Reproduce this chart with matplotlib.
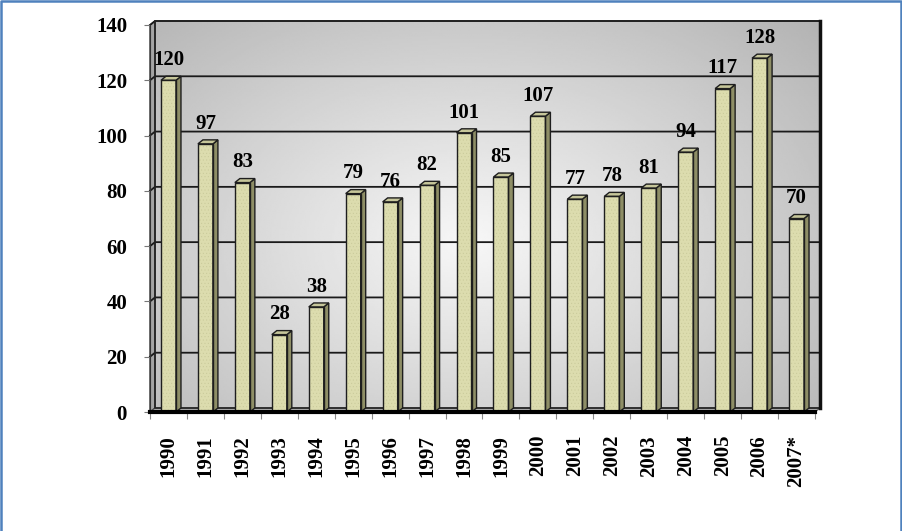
import numpy as np
import matplotlib.pyplot as plt
from matplotlib.patches import Polygon, Rectangle
from matplotlib.lines import Line2D

plt.rcParams['font.family'] = ['Liberation Serif', 'DejaVu Serif']
plt.rcParams['font.weight'] = 'bold'
plt.rcParams['hatch.linewidth'] = 0.3

years = ['1990', '1991', '1992', '1993', '1994', '1995', '1996', '1997', '1998',
         '1999', '2000', '2001', '2002', '2003', '2004', '2005', '2006', '2007*']
values = [120, 97, 83, 28, 38, 79, 76, 82, 101, 85, 107, 77, 78, 81, 94, 117, 128, 70]
yticks = [0, 20, 40, 60, 80, 100, 120, 140]

W, H = 903, 531
fig = plt.figure(figsize=(W / 100, H / 100), dpi=100)
ax = fig.add_axes([150 / W, (H - 412) / H, 665 / W, 387 / H])
n = len(values)
ymax = 140

# pixel -> data units, for the fake 3d depth
px_x = n / 665
px_y = ymax / 387
dx, dy = 5 * px_x, 4 * px_y

# back wall with radial grey shading
yy, xx = np.mgrid[0:1:200j, 0:1:400j]
r = np.sqrt(((xx - 0.47) * 667 / 340) ** 2 + ((yy - 0.43) * 387 / 230) ** 2)
shade = 0.97 - 0.19 * r
ax.imshow(shade, origin='lower', cmap='gray', vmin=0, vmax=1,
          extent=(dx, n + dx, dy, ymax + dy), aspect='auto', zorder=0,
          clip_on=False, interpolation='bilinear')

# side wall and floor
ax.add_patch(Polygon([(0, 0), (dx, dy), (dx, ymax + dy), (0, ymax)],
                     fc='#a4a4a4', ec='#333333', lw=1, zorder=1, clip_on=False))
ax.add_patch(Polygon([(0, 0), (n, 0), (n + dx, dy), (dx, dy)],
                     fc='#b4b4b4', ec='#555555', lw=0.8, zorder=1, clip_on=False))

for g in yticks[1:]:
    ax.plot([0, dx, n + dx], [g, g + dy, g + dy], color='#1a1a1a', lw=1.3,
            clip_on=False, zorder=1)
ax.add_patch(Rectangle((dx, dy), n, ymax, fill=False, ec='#222222', lw=1.2,
                       zorder=1, clip_on=False))
ax.plot([n + dx, n + dx], [dy, ymax + dy], color='#111111', lw=2.5,
        clip_on=False, zorder=1)

# columns
x = np.arange(n) + 0.5
bw = 15 * px_x
ax.bar(x, values, width=bw, color='#dcdcae', edgecolor='#c8c898', hatch='.....',
       linewidth=0, zorder=3)
ax.bar(x, values, width=bw, fill=False, edgecolor='#1e1e1e', linewidth=1.0, zorder=4)
for xi, v in zip(x, values):
    x0, x1 = xi - bw / 2, xi + bw / 2
    ax.add_patch(Polygon([(x1, 0), (x1 + dx, dy), (x1 + dx, v + dy), (x1, v)],
                         fc='#8e8e66', ec='#1e1e1e', lw=1, zorder=3))
    ax.add_patch(Polygon([(x0, v), (x1, v), (x1 + dx, v + dy), (x0 + dx, v + dy)],
                         fc='#c6c69a', ec='#1e1e1e', lw=1, zorder=3))
    ax.annotate(str(v), (xi, v), xytext=(0, 11), textcoords='offset points',
                ha='center', va='baseline', fontsize=15, fontweight='bold')

ax.set_xlim(0, n)
ax.set_ylim(0, ymax)

for s in ['top', 'right']:
    ax.spines[s].set_visible(False)
ax.spines['left'].set_color('#333333')
ax.spines['bottom'].set_color('black')
ax.spines['bottom'].set_linewidth(3)
ax.spines['bottom'].set_zorder(5)

ax.set_yticks(yticks)
ax.set_yticklabels([str(t) for t in yticks], fontsize=15, fontweight='bold')
ax.tick_params(axis='y', length=4, color='#777777', pad=12.5)

ax.set_xticks(np.arange(n + 1))
ax.set_xticklabels([])
ax.tick_params(axis='x', which='major', length=5, color='#888888')
ax.set_xticks(x, minor=True)
ax.set_xticklabels(years, minor=True, rotation=90, fontsize=15, fontweight='bold')
ax.tick_params(axis='x', which='minor', length=0, pad=16.5)

fig.add_artist(Line2D([1 / W, 1 / W, (W - 1.5) / W, (W - 1.5) / W],
                      [0, 1 - 1 / H, 1 - 1 / H, 0], transform=fig.transFigure,
                      color='#4f81bd', lw=1.8))

fig.savefig('out.png', dpi=100)
